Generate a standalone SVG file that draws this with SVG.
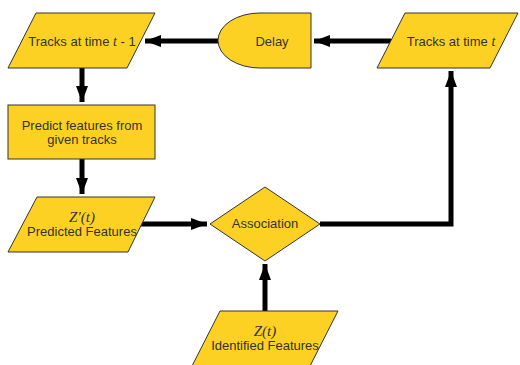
<svg xmlns="http://www.w3.org/2000/svg" width="520" height="365" viewBox="0 0 520 365">
<style>
.shape{fill:#FDD123;stroke:#333;stroke-width:1}
.lbl{font-family:"Liberation Sans",Arial,sans-serif;font-size:13px;fill:#333;text-anchor:middle}
.m{font-family:"Liberation Serif","Times New Roman",serif;font-style:italic;font-size:14px}
.mz{font-size:15px}
.conn{fill:none;stroke:#000;stroke-width:5}
</style>
<defs>
<marker id="ah" markerUnits="userSpaceOnUse" markerWidth="18" markerHeight="14" refX="16" refY="7" orient="auto" viewBox="0 0 18 14">
<path d="M0,1 L16,7 L0,13 z" fill="#000"/>
</marker>
</defs>
<g id="connectors">
<line class="conn" x1="218" y1="41" x2="145" y2="41" marker-end="url(#ah)"/>
<line class="conn" x1="391" y1="41" x2="314" y2="41" marker-end="url(#ah)"/>
<line class="conn" x1="82" y1="68" x2="82" y2="102" marker-end="url(#ah)"/>
<line class="conn" x1="82" y1="159" x2="82" y2="194" marker-end="url(#ah)"/>
<line class="conn" x1="141" y1="224" x2="207" y2="224" marker-end="url(#ah)"/>
<line class="conn" x1="265" y1="311" x2="265" y2="264" marker-end="url(#ah)"/>
<polyline class="conn" points="320,224 451,224 451,71" marker-end="url(#ah)"/>
</g>
<g id="tracks-t-1">
<polygon class="shape" points="36,13 155,13 127,68 8,68"/>
<text class="lbl" x="82" y="46">Tracks at time <tspan class="m">t</tspan> - 1</text>
</g>
<g id="delay">
<path class="shape" d="M260,13 L311,13 L311,68 L260,68 A42,27.5 0 0 1 260,13 z"/>
<text class="lbl" x="272" y="46">Delay</text>
</g>
<g id="tracks-t">
<polygon class="shape" points="405,13 518,13 490,68 377,68"/>
<text class="lbl" x="451" y="46">Tracks at time <tspan class="m">t</tspan></text>
</g>
<g id="predict">
<rect class="shape" x="8" y="105" width="147" height="54"/>
<text class="lbl" x="82" y="130">Predict features from</text>
<text class="lbl" x="82" y="144">given tracks</text>
</g>
<g id="predicted-features">
<polygon class="shape" points="37,197 155,197 128,252 8,252"/>
<text class="lbl m mz" x="82" y="222">Z′(t)</text>
<text class="lbl" x="82" y="236">Predicted Features</text>
</g>
<g id="association">
<polygon class="shape" points="265,187 320,224 265,261 210,224"/>
<text class="lbl" x="265" y="228">Association</text>
</g>
<g id="identified-features">
<polygon class="shape" points="220,311 338,311 310,366 192,366"/>
<text class="lbl m mz" x="265" y="336">Z(t)</text>
<text class="lbl" x="265" y="350">Identified Features</text>
</g>
</svg>
